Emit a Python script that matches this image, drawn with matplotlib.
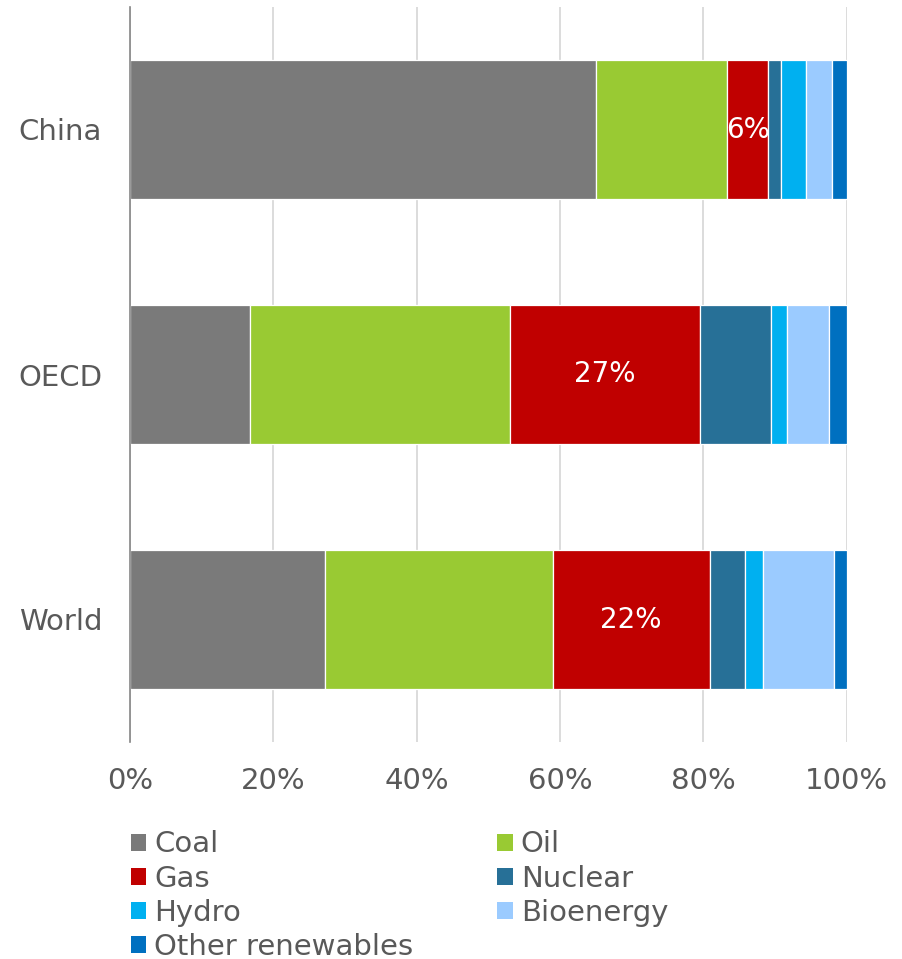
import matplotlib
matplotlib.use("Agg")
import matplotlib.pyplot as plt
from matplotlib.patches import Patch
import numpy as np

plt.rcParams['font.family'] = ['DejaVu Sans']

regions = ["World", "OECD", "China"]
fuels = ["Coal", "Oil", "Gas", "Nuclear", "Hydro", "Bioenergy", "Other renewables"]
colors = ["#7a7a7a", "#99ca33", "#c00000", "#277097", "#00b0f0", "#9bcbff", "#0070c0"]

coal      = [27.2, 16.7, 65.0]
oil       = [31.8, 36.3, 18.3]
gas       = [21.9, 26.6, 5.8]
nuclear   = [5.0, 9.8, 1.8]
hydro     = [2.5, 2.3, 3.4]
bioenergy = [9.9, 5.9, 3.7]
other     = [1.7, 2.4, 2.0]
series = [coal, oil, gas, nuclear, hydro, bioenergy, other]

xticks = [0, 20, 40, 60, 80, 100]
xticklabels = ["0%", "20%", "40%", "60%", "80%", "100%"]

text_color = "#595959"

fig = plt.figure(figsize=(9.02, 9.59), dpi=100)
ax = fig.add_axes([130 / 902, 1 - 742 / 959, (846.5 - 130) / 902, (742 - 7) / 959])

y = np.arange(len(regions))
left = np.zeros(len(regions))
handles = {}
for name, vals, col in zip(fuels, series, colors):
    vals = np.array(vals, dtype=float)
    ax.barh(y, vals, left=left, height=0.567, color=col,
            edgecolor="white", linewidth=0.9, zorder=3)
    if name == "Gas":
        for yi, l, v in zip(y, left, vals):
            ax.text(l + v / 2, yi, f"{v:.0f}%", ha="center", va="center",
                    color="white", fontsize=20, zorder=4)
    handles[name] = Patch(facecolor=col, edgecolor="none")
    left += vals

ax.set_xlim(0, 100)
ax.set_ylim(-0.5, 2.5)
ax.set_xticks(xticks)
ax.set_xticklabels(xticklabels)
ax.set_yticks(y)
ax.set_yticklabels(regions)
ax.tick_params(axis="both", length=0, labelsize=21, labelcolor=text_color)
ax.tick_params(axis="x", pad=18)
ax.tick_params(axis="y", pad=20)
ax.xaxis.grid(True, color="#d9d9d9", linewidth=1.3, zorder=0)
ax.set_axisbelow(True)
for s in ["top", "right", "bottom"]:
    ax.spines[s].set_visible(False)
ax.spines["left"].set_color("#868686")
ax.spines["left"].set_linewidth(1.2)
ax.spines["left"].set_zorder(5)

order = ["Coal", "Gas", "Hydro", "Other renewables", "Oil", "Nuclear", "Bioenergy"]
leg = fig.legend([handles[o] for o in order], order, ncol=2,
                 loc="upper left", bbox_to_anchor=(131 / 902, 1 - 830.5 / 959),
                 frameon=False, fontsize=21, handlelength=0.52, handleheight=0.52,
                 handletextpad=0.28, labelspacing=0.21, columnspacing=2.88,
                 borderpad=0, borderaxespad=0)
for t in leg.get_texts():
    t.set_color(text_color)

fig.savefig("out.png", dpi=100)
